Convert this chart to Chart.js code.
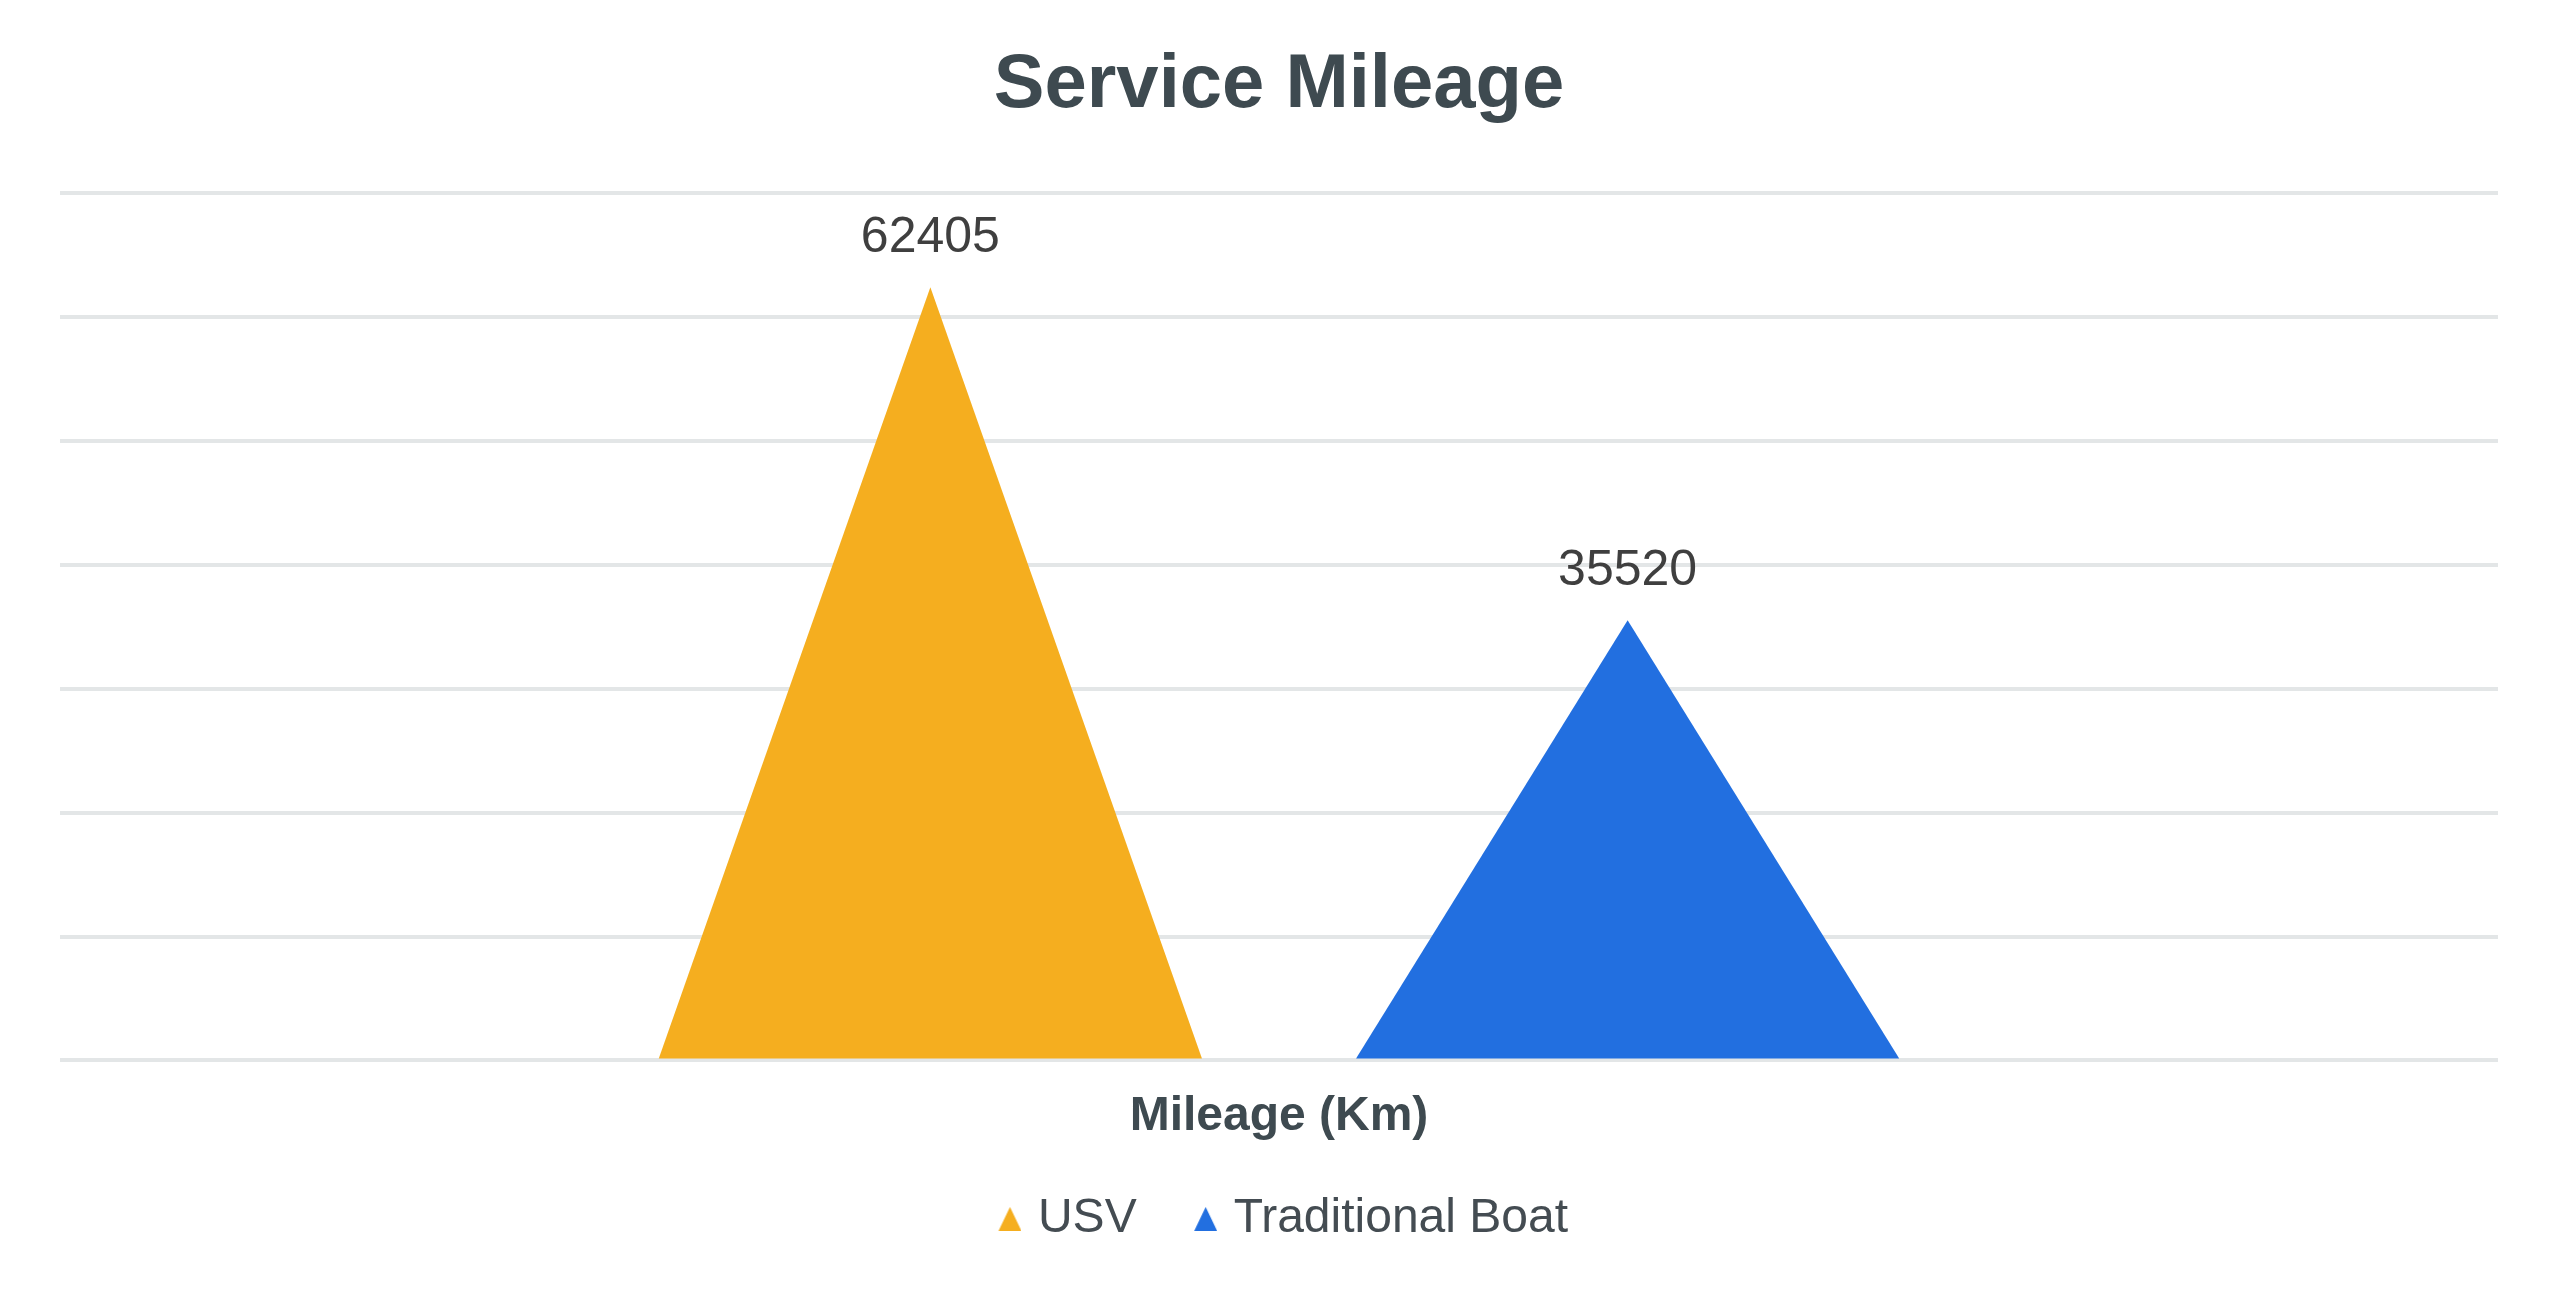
<!DOCTYPE html>
<html>
<head>
<meta charset="utf-8">
<title>Service Mileage</title>
<script src="https://cdn.jsdelivr.net/npm/chart.js@4.4.1/dist/chart.umd.min.js"></script>
<style>
    html, body { margin: 0; padding: 0; background: #ffffff; }
    #wrap { width: 2560px; height: 1297px; position: relative; }
</style>
</head>
<body>
<div id="wrap"><canvas id="mileageChart"></canvas></div>
<script>
// values
const categories = ['Mileage (Km)'];
const seriesNames = ['USV', 'Traditional Boat'];
const usvMileage = [62405];
const boatMileage = [35520];
const seriesColors = ['#f5ae1f', '#226fe0'];
const axisMax = 70000;
const axisStep = 10000;

const titleColor = '#3e4a50';
const valueColor = '#3f3f3f';

Chart.defaults.font.family = '"Liberation Sans", Arial, sans-serif';

// small triangle used as legend marker (drawn a bit right of the canvas centre
// so it sits closer to its text)
function triangleMarker(color) {
    var c = document.createElement('canvas');
    c.width = 39;
    c.height = 24;
    var g = c.getContext('2d');
    g.fillStyle = color;
    g.beginPath();
    g.moveTo(27.5, 0);
    g.lineTo(39, 24);
    g.lineTo(16, 24);
    g.closePath();
    g.fill();
    return c;
}
var markers = seriesColors.map(triangleMarker);

// draw each bar as a triangle (base = bar width, apex = value) plus its value label
const triangleBars = {
    id: 'triangleBars',
    beforeDatasetDraw: function(chart, args) {
        var ctx = chart.ctx;
        var ds = chart.data.datasets[args.index];
        args.meta.data.forEach(function(bar, i) {
            var p = bar.getProps(['x', 'y', 'base', 'width'], true);
            ctx.save();
            ctx.fillStyle = ds.backgroundColor;
            ctx.beginPath();
            ctx.moveTo(p.x - p.width / 2, p.base);
            ctx.lineTo(p.x, p.y);
            ctx.lineTo(p.x + p.width / 2, p.base);
            ctx.closePath();
            ctx.fill();

            ctx.fillStyle = valueColor;
            ctx.font = '50px "Liberation Sans", Arial, sans-serif';
            ctx.textAlign = 'center';
            ctx.textBaseline = 'alphabetic';
            ctx.fillText(String(ds.data[i]), p.x, p.y - 35);
            ctx.restore();
        });
        return false;
    }
};

var ctx = document.getElementById('mileageChart').getContext('2d');
var chart = new Chart(ctx, {
    type: 'bar',
    data: {
        labels: categories,
        datasets: [{
            label: seriesNames[0],
            data: usvMileage,
            backgroundColor: seriesColors[0],
            categoryPercentage: 0.572,
            barPercentage: 0.779
        }, {
            label: seriesNames[1],
            data: boatMileage,
            backgroundColor: seriesColors[1],
            categoryPercentage: 0.572,
            barPercentage: 0.779
        }]
    },
    options: {
        responsive: true,
        maintainAspectRatio: false,
        animation: false,
        layout: {
            padding: { top: 0, left: 60, right: 62, bottom: 44 }
        },
        plugins: {
            title: {
                display: true,
                text: 'Service Mileage',
                color: titleColor,
                font: { size: 76, weight: 'bold' },
                padding: { top: 40, bottom: 62 }
            },
            legend: {
                position: 'bottom',
                labels: {
                    usePointStyle: true,
                    boxWidth: 24,
                    boxHeight: 24,
                    padding: 49,
                    color: '#444c52',
                    font: { size: 48 },
                    generateLabels: function(chart) {
                        var items = Chart.defaults.plugins.legend.labels.generateLabels(chart);
                        items.forEach(function(item, i) {
                            item.pointStyle = markers[i];
                        });
                        return items;
                    }
                }
            },
            tooltip: { enabled: false }
        },
        scales: {
            x: {
                // hidden tick length only sets the gap above the category label
                grid: { display: false, drawTicks: true, tickLength: 28 },
                border: { display: false },
                ticks: {
                    color: titleColor,
                    padding: 0,
                    font: { size: 48, weight: 'bold' }
                }
            },
            y: {
                min: 0,
                max: axisMax,
                ticks: { display: false, stepSize: axisStep },
                grid: { color: '#e3e6e7', lineWidth: 4, drawTicks: false },
                border: { display: false }
            }
        }
    },
    plugins: [triangleBars]
});
</script>
</body>
</html>
